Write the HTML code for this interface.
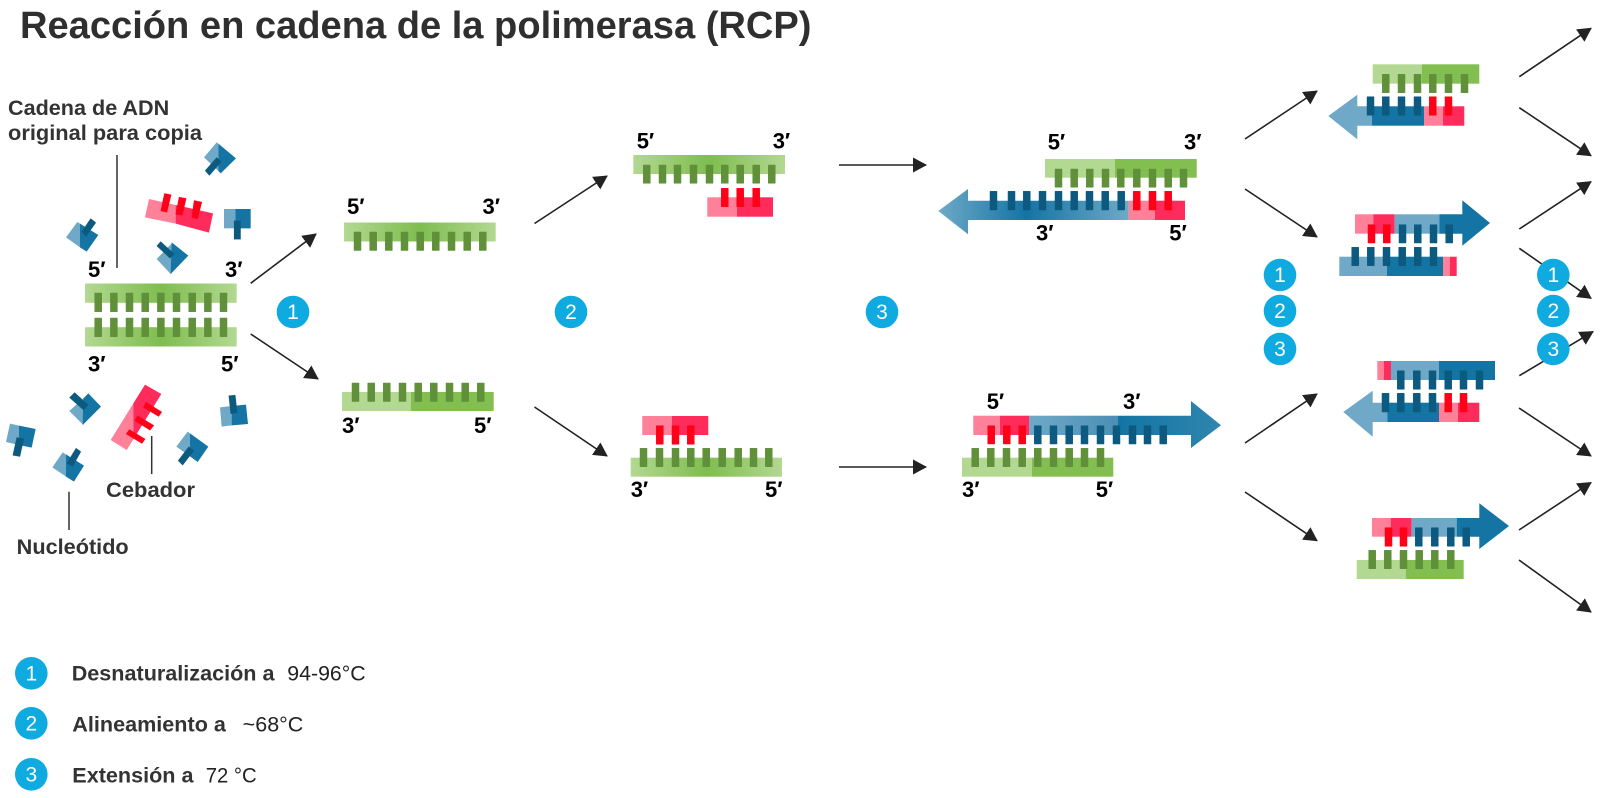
<!DOCTYPE html>
<html><head><meta charset="utf-8"><style>
html,body{margin:0;padding:0;background:#fff}
svg{display:block}
text{font-family:"Liberation Sans",sans-serif}
.b{font-weight:bold;fill:#333}
.p{font-weight:bold;font-size:22px;fill:#000}
.r{fill:#222;font-size:21.3px}
.n{fill:#fff;font-size:21px;text-anchor:middle}
.lb{fill:#6fa9c7}.db{fill:#1474a4}.tb{fill:#0d5a80;stroke:#0d5a80;stroke-width:.5}
.lg{fill:#b3d892}.dg{fill:#83bf50}.tg{fill:#60903a;stroke:#60903a;stroke-width:.5}
.pk{fill:#ff8099}.rd{fill:#ff2b5a}.tr{fill:#ff0018;stroke:#ff0018;stroke-width:.5}
.a{stroke:#222;stroke-width:1.6;fill:none;marker-end:url(#m)}
.c{fill:#0faae0}
</style></head><body>
<svg width="1600" height="798" viewBox="0 0 1600 798" xmlns="http://www.w3.org/2000/svg">
<defs>
<marker id="m" viewBox="0 0 14 15" refX="13" refY="7.5" markerWidth="14" markerHeight="15" markerUnits="userSpaceOnUse" orient="auto"><path d="M0 0L14 7.5L0 15z" fill="#222"/></marker>
<linearGradient id="gg"><stop offset="0" stop-color="#b3d892"/><stop offset=".5" stop-color="#7fbd4f"/><stop offset="1" stop-color="#b3d892"/></linearGradient>
<linearGradient id="bl"><stop offset="0" stop-color="#6fa9c7"/><stop offset=".46" stop-color="#1474a4"/><stop offset="1" stop-color="#6fa9c7"/></linearGradient>
<linearGradient id="bh"><stop offset="0" stop-color="#1474a4"/><stop offset="1" stop-color="#2f86ae"/></linearGradient>
<linearGradient id="bm"><stop offset="0" stop-color="#6fa9c7"/><stop offset="1" stop-color="#4b8fb5"/></linearGradient>
</defs>

<text class="b" x="20" y="38" font-size="38.1" style="fill:#2f2f2f">Reacción en cadena de la polimerasa (RCP)</text>
<text class="b" x="8" y="115" font-size="21.6">Cadena de ADN</text>
<text class="b" x="8" y="140" font-size="21.6" textLength="194" lengthAdjust="spacingAndGlyphs">original para copia</text>
<text class="b" x="106" y="497" font-size="21.6" textLength="89" lengthAdjust="spacingAndGlyphs">Cebador</text>
<text class="b" x="16.7" y="554" font-size="21.6" textLength="112" lengthAdjust="spacingAndGlyphs">Nucleótido</text>

<path d="M117 155V268M151.7 436V474M69 491.7V530" stroke="#333" stroke-width="1.5" fill="none"/>

<!-- Nucleotides & primer upper cluster -->
<g transform="translate(0,80) scale(.33333)">
<polygon class="lb" points="232,426 240,431 240,502 198,472"/><polygon class="db" points="240,431 295,465 260,515 240,502"/><polygon class="tb" points="245,455 272,415 288,428 258,470"/>
<polygon class="lb" points="650,187 655,191 655,273 612,232"/><polygon class="db" points="655,191 708,235 662,280 655,273"/><polygon class="tb" points="615,272 650,232 665,245 628,287"/>
<polygon class="lb" points="672,387 706,387 706,445 672,445"/><polygon class="db" points="706,387 752,387 752,445 706,445"/><polygon class="tb" points="702,422 722,422 722,478 702,478"/>
<polygon class="lb" points="470,537 515,490 515,580 512,582"/><polygon class="db" points="515,487 565,527 512,582"/><polygon class="tb" points="470,498 482,484 523,522 510,535"/>
<polygon class="pk" points="447,357 527,375 527,431 435,412"/><polygon class="rd" points="527,375 639,400 627,458 527,431"/>
<polygon class="tr" points="493,340 514,344 501,397 482,393"/><polygon class="tr" points="537,351 559,355 547,406 527,403"/><polygon class="tr" points="582,361 606,366 593,417 575,413"/>
</g>
<!-- lower cluster -->
<g transform="translate(0,350) scale(.33333)">
<polygon class="lb" points="250,145 250,225 208,183"/><polygon class="db" points="265,130 303,170 248,225 250,145"/><polygon class="tb" points="208,143 224,127 265,165 250,180"/>
<polygon class="lb" points="30,221 57,227 57,285 18,276"/><polygon class="db" points="57,227 107,237 95,293 57,285"/><polygon class="tb" points="50,262 72,266 60,320 38,316"/>
<polygon class="lb" points="188,307 198,313 198,380 157,352"/><polygon class="db" points="198,313 252,347 222,395 198,380"/><polygon class="tb" points="200,340 228,294 243,305 218,350"/>
<polygon class="lb" points="563,245 570,250 570,319 529,290"/><polygon class="db" points="570,250 625,290 593,336 570,319"/><polygon class="tb" points="534,332 566,290 582,302 548,346"/>
<polygon class="lb" points="660,172 695,168 695,226 665,230"/><polygon class="db" points="695,168 738,164 744,222 695,226"/><polygon class="tb" points="686,137 706,135 712,188 692,192"/>
<polygon class="pk" points="400,160 400,268 380,300 332,270"/><polygon class="rd" points="435,104 484,132 400,268 400,160"/>
<polygon class="tr" points="438,156 486,186 476,200 430,172"/><polygon class="tr" points="413,197 462,226 450,241 404,212"/><polygon class="tr" points="388,238 436,267 426,281 378,252"/>
</g>

<!-- Original dsDNA -->
<rect x="85" y="283.5" width="151.7" height="19.3" fill="url(#gg)"/>
<rect x="85" y="327.2" width="151.7" height="19.3" fill="url(#gg)"/>
<path class="tg" d="M94.7 293h7v18.7h-7zM110.4 293h7v18.7h-7zM126 293h7v18.7h-7zM141.7 293h7v18.7h-7zM157.4 293h7v18.7h-7zM173 293h7v18.7h-7zM188.7 293h7v18.7h-7zM204.4 293h7v18.7h-7zM220 293h7v18.7h-7z"/>
<path class="tg" d="M94.7 318h7v18.7h-7zM110.4 318h7v18.7h-7zM126 318h7v18.7h-7zM141.7 318h7v18.7h-7zM157.4 318h7v18.7h-7zM173 318h7v18.7h-7zM188.7 318h7v18.7h-7zM204.4 318h7v18.7h-7zM220 318h7v18.7h-7z"/>
<text class="p" x="88" y="277">5′</text><text class="p" x="225" y="277">3′</text>
<text class="p" x="88" y="371.7">3′</text><text class="p" x="221" y="371.7">5′</text>

<!-- Strand A -->
<rect x="344" y="222.5" width="151.7" height="19" fill="url(#gg)"/>
<path class="tg" d="M354 232h7v18.5h-7zM369.7 232h7v18.5h-7zM385.3 232h7v18.5h-7zM401 232h7v18.5h-7zM416.7 232h7v18.5h-7zM432.3 232h7v18.5h-7zM448 232h7v18.5h-7zM463.7 232h7v18.5h-7zM479.3 232h7v18.5h-7z"/>
<text class="p" x="347" y="214">5′</text><text class="p" x="482.5" y="214">3′</text>
<!-- Strand B -->
<rect class="lg" x="342" y="392" width="69" height="19"/><rect class="dg" x="411" y="392" width="82.7" height="19"/>
<path class="tg" d="M352 383h7v18.5h-7zM367.7 383h7v18.5h-7zM383.3 383h7v18.5h-7zM399 383h7v18.5h-7zM414.7 383h7v18.5h-7zM430.3 383h7v18.5h-7zM446 383h7v18.5h-7zM461.7 383h7v18.5h-7zM477.3 383h7v18.5h-7z"/>
<text class="p" x="342" y="433">3′</text><text class="p" x="474" y="433">5′</text>

<!-- Stage 2 top -->
<rect x="633.3" y="155" width="151.7" height="19" fill="url(#gg)"/>
<path class="tg" d="M643.3 165h7v18.3h-7zM659 165h7v18.3h-7zM674 165h7v18.3h-7zM690 165h7v18.3h-7zM706 165h7v18.3h-7zM721.3 165h7v18.3h-7zM736.7 165h7v18.3h-7zM752.7 165h7v18.3h-7zM768.3 165h7v18.3h-7z"/>
<rect class="pk" x="707.3" y="197.3" width="29.7" height="19.4"/><rect class="rd" x="737" y="197.3" width="36" height="19.4"/>
<path class="tr" d="M721.3 188.3h7v18.4h-7zM736.7 188.3h7v18.4h-7zM752.7 188.3h7v18.4h-7z"/>
<text class="p" x="636.7" y="148.3">5′</text><text class="p" x="772.7" y="148.3">3′</text>
<!-- Stage 2 bottom -->
<rect class="pk" x="642.3" y="416" width="29.7" height="19"/><rect class="rd" x="672" y="416" width="36.3" height="19"/>
<path class="tr" d="M656.3 425.7h7v18.6h-7zM672 425.7h7v18.6h-7zM687.3 425.7h7v18.6h-7z"/>
<rect x="630.7" y="457.7" width="151.3" height="19" fill="url(#gg)"/>
<path class="tg" d="M640 448.3h7v18.4h-7zM656 448.3h7v18.4h-7zM672 448.3h7v18.4h-7zM687.3 448.3h7v18.4h-7zM702.7 448.3h7v18.4h-7zM718.7 448.3h7v18.4h-7zM734.7 448.3h7v18.4h-7zM750 448.3h7v18.4h-7zM765.3 448.3h7v18.4h-7z"/>
<text class="p" x="630.7" y="497">3′</text><text class="p" x="765" y="497">5′</text>

<!-- Stage 3 top -->
<rect class="lg" x="1045" y="159" width="70" height="18.7"/><rect class="dg" x="1115" y="159" width="81.7" height="18.7"/>
<path class="tg" d="M1055 169h7v18.3h-7zM1070.7 169h7v18.3h-7zM1086.3 169h7v18.3h-7zM1102 169h7v18.3h-7zM1117.3 169h7v18.3h-7zM1133.3 169h7v18.3h-7zM1149 169h7v18.3h-7zM1164.7 169h7v18.3h-7zM1180 169h7v18.3h-7z"/>
<polygon fill="url(#bl)" points="938.3,211 968,189 968,200.7 1128.7,200.7 1128.7,220 968,220 968,234.3"/>
<rect class="pk" x="1128.7" y="200.7" width="26.3" height="19.3"/><rect class="rd" x="1155" y="200.7" width="30" height="19.3"/>
<path class="tb" d="M990 191.3h7v18.7h-7zM1008 191.3h7v18.7h-7zM1023.3 191.3h7v18.7h-7zM1039 191.3h7v18.7h-7zM1055 191.3h7v18.7h-7zM1070.7 191.3h7v18.7h-7zM1086 191.3h7v18.7h-7zM1101.7 191.3h7v18.7h-7zM1117.7 191.3h7v18.7h-7z"/>
<path class="tr" d="M1133.3 191.3h7v18.7h-7zM1149 191.3h7v18.7h-7zM1164.7 191.3h7v18.7h-7z"/>
<text class="p" x="1047.7" y="149.3">5′</text><text class="p" x="1184" y="149.3">3′</text>
<text class="p" x="1036" y="240.7">3′</text><text class="p" x="1169.3" y="240.7">5′</text>

<!-- Stage 3 bottom -->
<rect class="pk" x="973.3" y="415.7" width="26.7" height="19.3"/><rect class="rd" x="1000" y="415.7" width="29.3" height="19.3"/>
<rect x="1029.3" y="415.7" width="88.7" height="19.3" fill="url(#bm)"/>
<polygon fill="url(#bh)" points="1118,415.7 1191,415.7 1191,401 1221,425.3 1191,448 1191,435 1118,435"/>
<path class="tr" d="M987.7 425.7h7v18.3h-7zM1003.3 425.7h7v18.3h-7zM1018.7 425.7h7v18.3h-7z"/>
<path class="tb" d="M1034.3 425.7h7v18.3h-7zM1050 425.7h7v18.3h-7zM1065.7 425.7h7v18.3h-7zM1081 425.7h7v18.3h-7zM1097 425.7h7v18.3h-7zM1113 425.7h7v18.3h-7zM1129 425.7h7v18.3h-7zM1144 425.7h7v18.3h-7zM1159.7 425.7h7v18.3h-7z"/>
<rect class="lg" x="962" y="457.7" width="70" height="19"/><rect class="dg" x="1032" y="457.7" width="81.3" height="19"/>
<path class="tg" d="M971.7 448.3h7v18.4h-7zM987.3 448.3h7v18.4h-7zM1003 448.3h7v18.4h-7zM1018.7 448.3h7v18.4h-7zM1034.3 448.3h7v18.4h-7zM1050 448.3h7v18.4h-7zM1065.7 448.3h7v18.4h-7zM1081 448.3h7v18.4h-7zM1097 448.3h7v18.4h-7z"/>
<text class="p" x="986.7" y="409">5′</text><text class="p" x="1123" y="409">3′</text>
<text class="p" x="962" y="497">3′</text><text class="p" x="1095.7" y="497">5′</text>

<!-- Stage 4, #1 -->
<rect class="lg" x="1372.7" y="64.3" width="49" height="19.4"/><rect class="dg" x="1421.7" y="64.3" width="57.6" height="19.4"/>
<path class="tg" d="M1382.3 74.3h7v18.4h-7zM1398 74.3h7v18.4h-7zM1414 74.3h7v18.4h-7zM1429.3 74.3h7v18.4h-7zM1445 74.3h7v18.4h-7zM1461 74.3h7v18.4h-7z"/>
<polygon class="lb" points="1328.3,116 1357.3,94.7 1357.3,106.3 1372,106.3 1372,125.7 1357.3,125.7 1357.3,139.3"/>
<rect class="db" x="1372" y="106.3" width="52" height="19.4"/><rect class="pk" x="1424" y="106.3" width="19" height="19.4"/><rect class="rd" x="1443" y="106.3" width="21.3" height="19.4"/>
<path class="tb" d="M1367 96.7h7v18.6h-7zM1382.3 96.7h7v18.6h-7zM1398 96.7h7v18.6h-7zM1414 96.7h7v18.6h-7z"/>
<path class="tr" d="M1429.3 96.7h7v18.6h-7zM1445 96.7h7v18.6h-7z"/>

<!-- Stage 4, #2 -->
<rect class="pk" x="1355" y="214.3" width="18.3" height="19.4"/><rect class="rd" x="1373.3" y="214.3" width="21.4" height="19.4"/>
<rect class="lb" x="1394.7" y="214.3" width="44.6" height="19.4"/>
<polygon class="db" points="1439.3,214.3 1462.3,214.3 1462.3,200.3 1490,223 1462.3,245.7 1462.3,233.7 1439.3,233.7"/>
<path class="tr" d="M1368 224.7h7V243h-7zM1383.3 224.7h7V243h-7z"/>
<path class="tb" d="M1399 224.7h7V243h-7zM1414.3 224.7h7V243h-7zM1430 224.7h7V243h-7zM1445.7 224.7h7V243h-7z"/>
<rect class="lb" x="1339.3" y="256.7" width="47.7" height="19.3"/><rect class="db" x="1387" y="256.7" width="56" height="19.3"/><rect class="pk" x="1443" y="256.7" width="7" height="19.3"/><rect class="rd" x="1450" y="256.7" width="6.7" height="19.3"/>
<path class="tb" d="M1351.7 247.3h7v18.4h-7zM1367.3 247.3h7v18.4h-7zM1383 247.3h7v18.4h-7zM1398.7 247.3h7v18.4h-7zM1414.3 247.3h7v18.4h-7zM1430 247.3h7v18.4h-7z"/>

<!-- Stage 4, #3 -->
<rect class="pk" x="1377.3" y="361" width="6.7" height="19"/><rect class="rd" x="1384" y="361" width="7" height="19"/><rect class="lb" x="1391" y="361" width="48" height="19"/><rect class="db" x="1439" y="361" width="56" height="19"/>
<path class="tb" d="M1397.3 370.7h7v18.6h-7zM1413.3 370.7h7v18.6h-7zM1429 370.7h7v18.6h-7zM1444.7 370.7h7v18.6h-7zM1460 370.7h7v18.6h-7zM1476 370.7h7v18.6h-7z"/>
<polygon class="lb" points="1343.3,412 1372.7,390.7 1372.7,402.7 1387.3,402.7 1387.3,422 1372.7,422 1372.7,436.7"/>
<rect class="db" x="1387.3" y="402.7" width="51.7" height="19.3"/><rect class="pk" x="1439" y="402.7" width="19" height="19.3"/><rect class="rd" x="1458" y="402.7" width="21.3" height="19.3"/>
<path class="tb" d="M1382 393.3h7V412h-7zM1397.3 393.3h7V412h-7zM1413.3 393.3h7V412h-7zM1429 393.3h7V412h-7z"/>
<path class="tr" d="M1444.7 393.3h7V412h-7zM1460 393.3h7V412h-7z"/>

<!-- Stage 4, #4 -->
<rect class="pk" x="1372" y="518" width="18.7" height="18.7"/><rect class="rd" x="1390.7" y="518" width="21" height="18.7"/><rect class="lb" x="1411.7" y="518" width="45" height="18.7"/>
<polygon class="db" points="1456.7,518 1479.3,518 1479.3,503.3 1509,526 1479.3,549 1479.3,536.7 1456.7,536.7"/>
<path class="tr" d="M1385 527.7h7v18.6h-7zM1400 527.7h7v18.6h-7z"/>
<path class="tb" d="M1415.3 527.7h7v18.6h-7zM1431.3 527.7h7v18.6h-7zM1447.3 527.7h7v18.6h-7zM1462.7 527.7h7v18.6h-7z"/>
<rect class="lg" x="1356.7" y="560" width="49" height="19"/><rect class="dg" x="1405.7" y="560" width="58" height="19"/>
<path class="tg" d="M1368.7 550.3h7v18.4h-7zM1384.3 550.3h7v18.4h-7zM1400 550.3h7v18.4h-7zM1415.7 550.3h7v18.4h-7zM1431.3 550.3h7v18.4h-7zM1447.3 550.3h7v18.4h-7z"/>

<!-- Arrows -->
<line class="a" x1="250.7" y1="283.3" x2="316" y2="234"/>
<line class="a" x1="250.7" y1="334" x2="318" y2="379"/>
<line class="a" x1="534.5" y1="223.5" x2="607" y2="176"/>
<line class="a" x1="534.5" y1="407" x2="607" y2="456"/>
<line class="a" x1="839" y1="165" x2="926" y2="165"/>
<line class="a" x1="839" y1="467" x2="926" y2="467"/>
<line class="a" x1="1245" y1="139" x2="1317" y2="91"/>
<line class="a" x1="1245" y1="189" x2="1317" y2="237"/>
<line class="a" x1="1245" y1="443" x2="1317" y2="394"/>
<line class="a" x1="1245" y1="492" x2="1317" y2="540.7"/>
<line class="a" x1="1519.3" y1="76.7" x2="1591" y2="28.3"/>
<line class="a" x1="1519.3" y1="107.7" x2="1591" y2="155.7"/>
<line class="a" x1="1519.3" y1="229" x2="1591" y2="181.7"/>
<line class="a" x1="1519.3" y1="248.3" x2="1591" y2="298.3"/>
<line class="a" x1="1519.3" y1="375.7" x2="1593" y2="331.7"/>
<line class="a" x1="1519" y1="408" x2="1591" y2="456"/>
<line class="a" x1="1519" y1="530" x2="1591" y2="482.5"/>
<line class="a" x1="1519" y1="560" x2="1591" y2="612"/>

<!-- Circles -->
<circle class="c" cx="293" cy="312" r="16.3"/><text class="n" x="293" y="319">1</text>
<circle class="c" cx="571" cy="312" r="16.3"/><text class="n" x="571" y="319">2</text>
<circle class="c" cx="882" cy="312" r="16.3"/><text class="n" x="882" y="319">3</text>
<circle class="c" cx="1280" cy="275" r="16.3"/><text class="n" x="1280" y="282">1</text>
<circle class="c" cx="1280" cy="311" r="16.3"/><text class="n" x="1280" y="318">2</text>
<circle class="c" cx="1280" cy="349" r="16.3"/><text class="n" x="1280" y="356">3</text>
<circle class="c" cx="1553.3" cy="275" r="16.3"/><text class="n" x="1553.3" y="282">1</text>
<circle class="c" cx="1553.3" cy="311" r="16.3"/><text class="n" x="1553.3" y="318">2</text>
<circle class="c" cx="1553.3" cy="349" r="16.3"/><text class="n" x="1553.3" y="356">3</text>

<!-- Legend -->
<circle class="c" cx="31.3" cy="673.3" r="16.3"/><text class="n" x="31.3" y="680.5">1</text>
<circle class="c" cx="31.3" cy="723.3" r="16.3"/><text class="n" x="31.3" y="730.5">2</text>
<circle class="c" cx="31.3" cy="774.3" r="16.3"/><text class="n" x="31.3" y="781.5">3</text>
<text class="b" x="71.7" y="680.7" font-size="21.6">Desnaturalización a</text>
<text class="r" x="287.3" y="680.7" textLength="78.4" lengthAdjust="spacingAndGlyphs">94-96°C</text>
<text class="b" x="72.3" y="731.7" font-size="21.6">Alineamiento a</text>
<text class="r" x="242.7" y="731.7" textLength="60.6" lengthAdjust="spacingAndGlyphs">~68°C</text>
<text class="b" x="72.3" y="782.7" font-size="21.6">Extensión a</text>
<text class="r" x="205.7" y="782.7" textLength="51" lengthAdjust="spacingAndGlyphs">72 °C</text>
</svg>
</body></html>
